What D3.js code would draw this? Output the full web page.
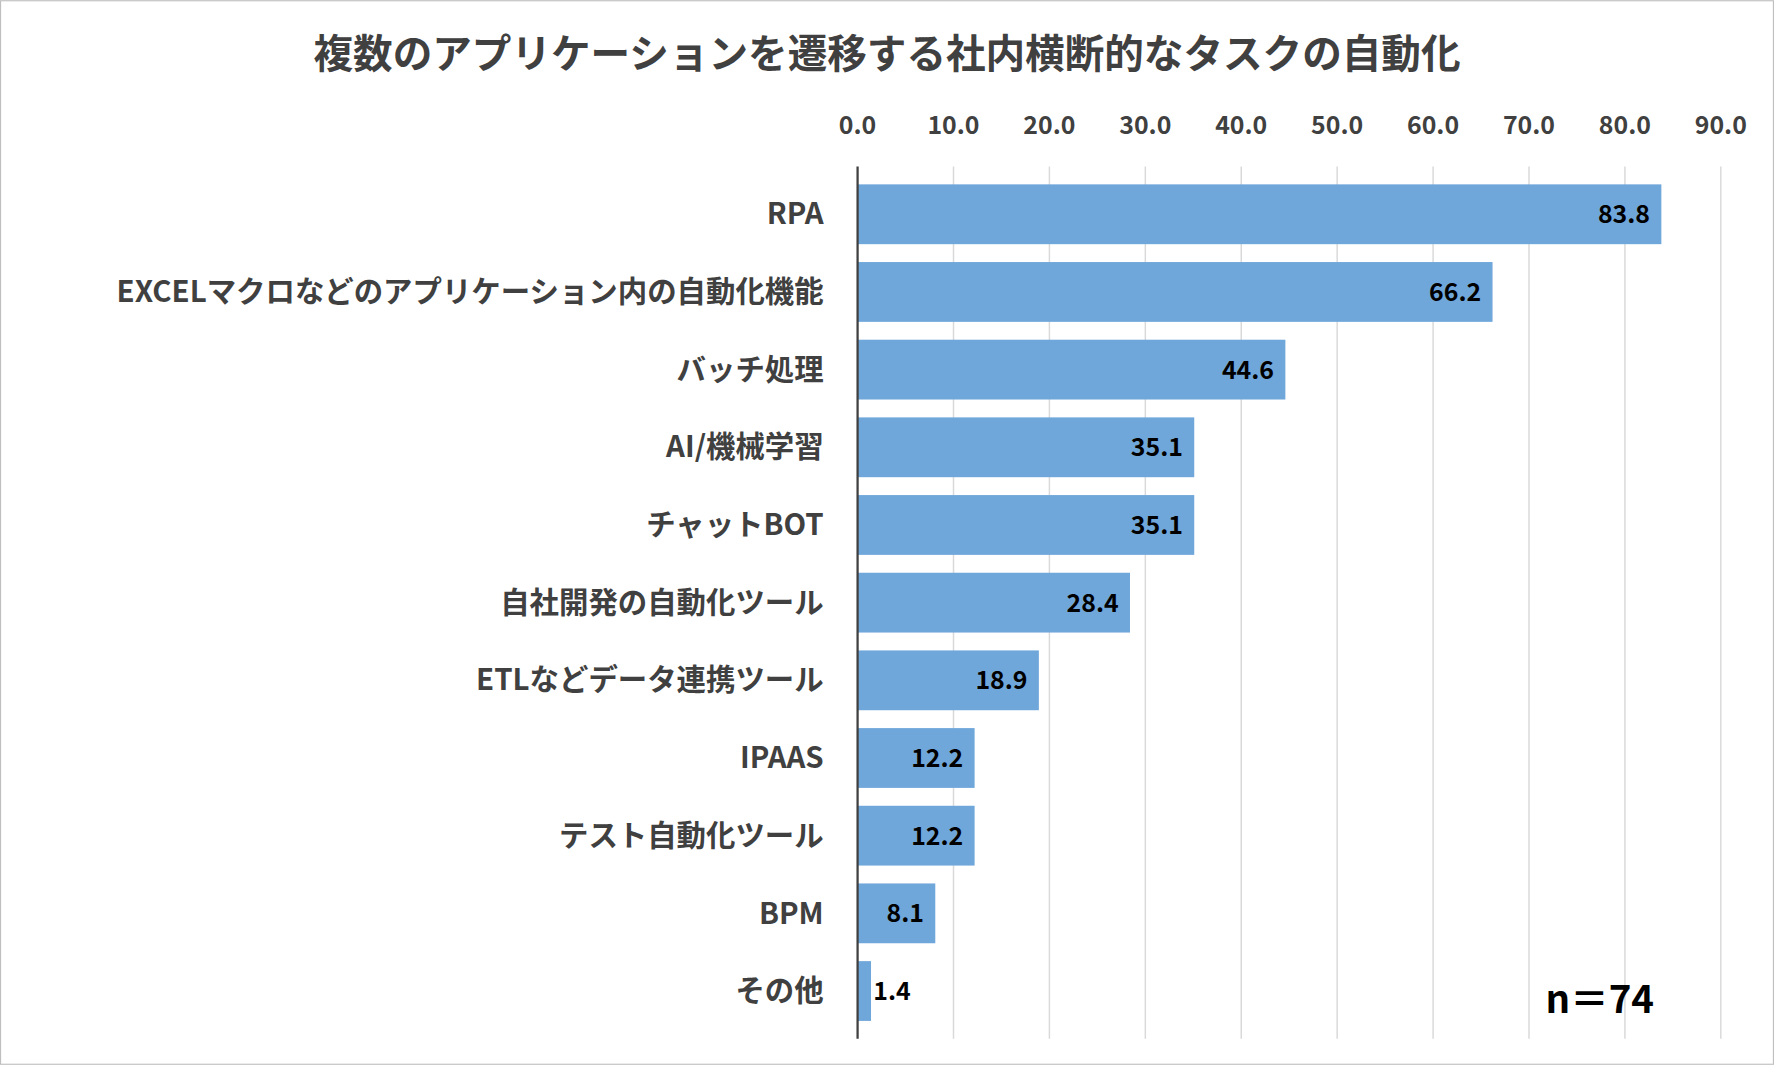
<!DOCTYPE html>
<html><head><meta charset="utf-8">
<script src="https://cdn.jsdelivr.net/npm/d3@7"></script>
<style>body{margin:0;background:#fff}svg{display:block}</style>
</head><body>
<script>
// data
const categories = ["RPA","EXCELマクロなどのアプリケーション内の自動化機能","バッチ処理","AI/機械学習","チャットBOT","自社開発の自動化ツール","ETLなどデータ連携ツール","IPAAS","テスト自動化ツール","BPM","その他"];
const values = [83.8,66.2,44.6,35.1,35.1,28.4,18.9,12.2,12.2,8.1,1.4];
const ticks = [0,10,20,30,40,50,60,70,80,90];

const W = 1568, H = 941;
const FONT = "'Noto Sans CJK JP','Noto Sans',sans-serif";
const svg = d3.select("body").append("svg")
  .attr("width", 1774).attr("height", 1065)
  .attr("viewBox", `0 0 ${W} ${H}`);

svg.append("rect").attr("x",0.5).attr("y",0.5).attr("width",W-1).attr("height",H-1)
  .attr("fill","#fff").attr("stroke","#bfbfbf");

const x = d3.scaleLinear().domain([0,90]).range([758,1521]);
const y = d3.scaleBand().domain(categories).range([147,918]).padding(0.23);

svg.append("text").attr("x",784).attr("y",60).attr("text-anchor","middle")
  .attr("font-family",FONT).attr("font-weight","bold").attr("font-size",35)
  .attr("fill","#404040").text("複数のアプリケーションを遷移する社内横断的なタスクの自動化");

// grid
svg.append("g").selectAll("line").data(ticks.slice(1)).join("line")
  .attr("x1",d=>x(d)).attr("x2",d=>x(d)).attr("y1",147).attr("y2",918)
  .attr("stroke","#d9d9d9").attr("stroke-width",1.3);

// axis labels
svg.append("g").selectAll("text").data(ticks).join("text")
  .attr("x",d=>x(d)).attr("y",118).attr("text-anchor","middle")
  .attr("font-family",FONT).attr("font-weight","bold").attr("font-size",22)
  .attr("fill","#404040").text(d=>d.toFixed(1));

// bars
const data = categories.map((c,i)=>({c, v: values[i]}));
svg.append("g").selectAll("rect").data(data).join("rect")
  .attr("x",x(0)).attr("y",d=>y(d.c)).attr("width",d=>x(d.v)-x(0))
  .attr("height",y.bandwidth()).attr("fill","#70a7db");

svg.append("line").attr("x1",x(0)).attr("x2",x(0)).attr("y1",147).attr("y2",918)
  .attr("stroke","#404040").attr("stroke-width",2);

// value labels
svg.append("g").selectAll("text").data(data).join("text")
  .attr("x",d=> d.v < 5 ? x(d.v)+2 : x(d.v)-10)
  .attr("y",d=>y(d.c)+y.bandwidth()/2+8)
  .attr("text-anchor",d=> d.v < 5 ? "start" : "end")
  .attr("font-family",FONT).attr("font-weight","bold").attr("font-size",22)
  .attr("fill","#000").text(d=>d.v.toFixed(1));

// category labels
svg.append("g").selectAll("text").data(categories).join("text")
  .attr("x",728).attr("y",d=>y(d)+y.bandwidth()/2+9).attr("text-anchor","end")
  .attr("font-family",FONT).attr("font-weight","bold").attr("font-size",26)
  .attr("fill","#404040").text(d=>d);

svg.append("text").attr("x",1462).attr("y",895).attr("text-anchor","end")
  .attr("font-family",FONT).attr("font-weight","bold").attr("font-size",34)
  .attr("fill","#000").text("n＝74");
</script>
</body></html>
